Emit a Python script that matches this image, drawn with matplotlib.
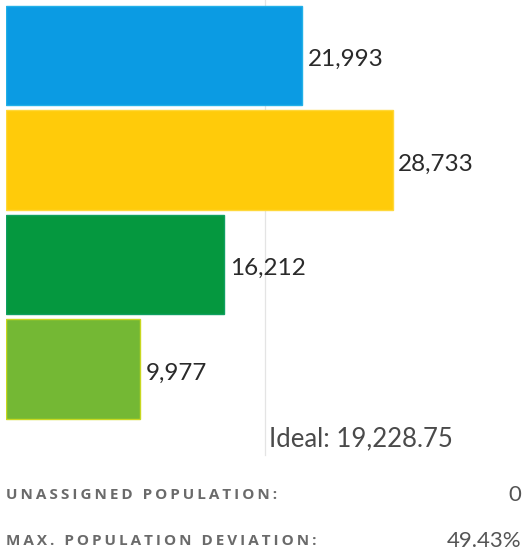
from matplotlib import pyplot as plt

# district populations, top to bottom
populations = [21993, 28733, 16212, 9977]
bar_colors = ['#0b9be3', '#ffcb0a', '#05983f', '#74b834']
edge_colors = ['#22b0e8', '#ffd83a', '#10a060', '#c8d820']
ideal = 19228.75
stat_names = ['UNASSIGNED POPULATION:', 'MAX. POPULATION DEVIATION:']
stat_values = ['0', '49.43%']


def spaced(s):
    # imitate the css letter spacing
    return '\u2009'.join(s)


if __name__ == '__main__':
    plt.rcParams.update({
        'font.family': ['Lato', 'DejaVu Sans'],
        'font.size': 16,
    })
    fig = plt.figure(figsize=(5.27, 5.5), dpi=100)
    W, H = 527.0, 550.0
    # axes placed in pixels: left at 6px, full height down to 460px
    ax = fig.add_axes([6 / W, 1 - 460 / H, 521 / W, 460 / H])
    px_per_unit = 296.0 / 21993
    ax.set_xlim(0, 521 / px_per_unit)
    step = 104.5
    ax.set_ylim((460 - 55.5) / step, -55.5 / step)
    ax.axis('off')

    ax.axvline(ideal, ymin=0.01, ymax=1, color='#e4e4e4', linewidth=0.9, zorder=0)
    ys = list(range(len(populations)))
    ax.barh(ys, populations, height=0.955, color=bar_colors,
            edgecolor=edge_colors, linewidth=1.0, zorder=2)
    for y, v in zip(ys, populations):
        ax.annotate(f'{v:,}', (v, y), xytext=(4, -3), textcoords='offset points',
                    ha='left', va='center', fontsize=17.5, color='#2a2a2a', zorder=3)
    ax.annotate(f'Ideal: {ideal:,.2f}', (ideal, (439 - 55.5) / step), xytext=(3, 0),
                textcoords='offset points', ha='left', va='center',
                fontsize=18.5, color='#4a4a4a')

    for i, (name, val) in enumerate(zip(stat_names, stat_values)):
        yf = 1 - (495 + 46 * i) / H
        fig.text(6 / W, yf, spaced(name), ha='left', va='center', fontsize=11,
                 fontweight='bold', color='#6a6a6a', family=['Open Sans', 'DejaVu Sans'])
        fig.text(521 / W, yf, val, ha='right', va='center', fontsize=16,
                 color='#555555')

    fig.savefig('out.png', dpi=100)
